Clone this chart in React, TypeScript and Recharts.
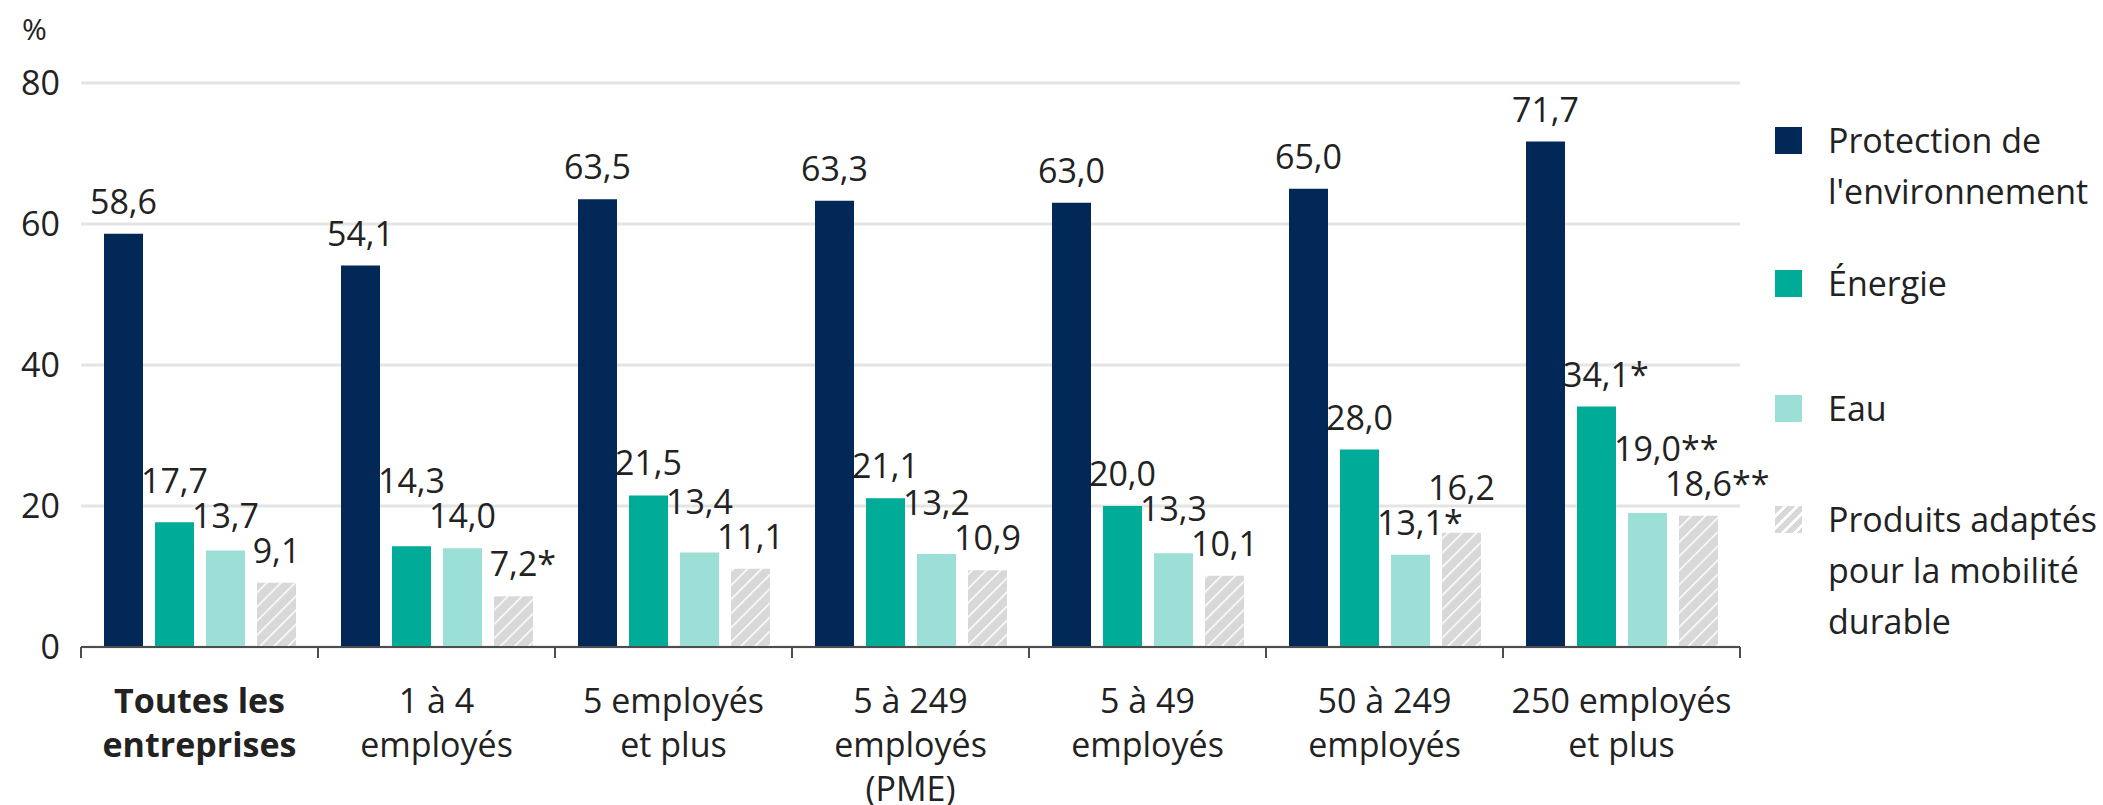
import React from 'react';
import { Bar, BarChart, CartesianGrid, LabelList, Legend, XAxis, YAxis } from 'recharts';

const categories = [
  'Toutes les entreprises',
  '1 à 4 employés',
  '5 employés et plus',
  '5 à 249 employés (PME)',
  '5 à 49 employés',
  '50 à 249 employés',
  '250 employés et plus',
];

const categoryLines = [
  ['Toutes les', 'entreprises'],
  ['1 à 4', 'employés'],
  ['5 employés', 'et plus'],
  ['5 à 249', 'employés', '(PME)'],
  ['5 à 49', 'employés'],
  ['50 à 249', 'employés'],
  ['250 employés', 'et plus'],
];

const protection = [58.6, 54.1, 63.5, 63.3, 63.0, 65.0, 71.7];
const energie = [17.7, 14.3, 21.5, 21.1, 20.0, 28.0, 34.1];
const eau = [13.7, 14.0, 13.4, 13.2, 13.3, 13.1, 19.0];
const mobilite = [9.1, 7.2, 11.1, 10.9, 10.1, 16.2, 18.6];

const protectionNotes = ['', '', '', '', '', '', ''];
const energieNotes = ['', '', '', '', '', '', '*'];
const eauNotes = ['', '', '', '', '', '*', '**'];
const mobiliteNotes = ['', '*', '', '', '', '', '**'];

const yTicks = [0, 20, 40, 60, 80];

const seriesList = [
  { key: 'protection', lines: ['Protection de', "l'environnement"], values: protection, notes: protectionNotes, fill: '#012856' },
  { key: 'energie', lines: ['Énergie'], values: energie, notes: energieNotes, fill: '#00ab97' },
  { key: 'eau', lines: ['Eau'], values: eau, notes: eauNotes, fill: '#9bdfd6' },
  { key: 'mobilite', lines: ['Produits adaptés', 'pour la mobilité', 'durable'], values: mobilite, notes: mobiliteNotes, fill: 'url(#hatch)' },
];

const data = categories.map((name, i) => ({
  name,
  protection: protection[i],
  energie: energie[i],
  eau: eau[i],
  mobilite: mobilite[i],
}));

const W = 2103;
const H = 805;
const MARGIN = { top: 83, right: 363, bottom: 58, left: 21 };
const Y_WIDTH = 60;
const BAND = (W - MARGIN.right - MARGIN.left - Y_WIDTH) / categories.length;
const FONT = "'Open Sans', sans-serif";
const TEXT = '#222';
const FS = 34;
const LABEL_OFFSET = 20;
const LABEL_LINE = 35;

const fmt = (v: number) => v.toFixed(1).replace('.', ',');
// rough Open Sans width of a number like "13,7"
const numWidth = (s: string) => (s.length - 1) * 0.572 * FS + 0.26 * FS;

// labels stack up when neighbours collide; higher value gets pushed up
function makeLabel(si: number) {
  return (props: any) => {
    const { x, y, width, height, index } = props;
    const vals = seriesList.map((s) => s.values[index]);
    const bottom = Number(y) + Number(height);
    const ppu = Number(height) / vals[si];
    const order = vals.map((v, i) => i).sort((a, b) => vals[a] - vals[b]);
    const base: number[] = [];
    order.forEach((s) => {
      let b = bottom - vals[s] * ppu - LABEL_OFFSET;
      [s - 1, s + 1].forEach((n) => {
        if (base[n] !== undefined) b = Math.min(b, base[n] - LABEL_LINE);
      });
      base[s] = b;
    });
    const cx = Number(x) + Number(width) / 2;
    const txt = fmt(vals[si]);
    const note = seriesList[si].notes[index];
    return (
      <g style={{ fontFamily: FONT, fontSize: FS }} fill={TEXT}>
        <text x={cx} y={base[si]} textAnchor='middle'>
          {txt}
        </text>
        {note && (
          <text x={cx + numWidth(txt) / 2} y={base[si]} textAnchor='start'>
            {note}
          </text>
        )}
      </g>
    );
  };
}

const CategoryTick = ({ x, y, payload }: any) => {
  const idx = categories.indexOf(payload.value);
  const lines = categoryLines[idx] || [payload.value];
  const last = idx === categories.length - 1;
  return (
    <g>
      <line x1={x - BAND / 2} x2={x - BAND / 2} y1={y} y2={y + 11} stroke='#4d4d4d' strokeWidth={2} />
      {last && <line x1={x + BAND / 2} x2={x + BAND / 2} y1={y} y2={y + 11} stroke='#4d4d4d' strokeWidth={2} />}
      <text
        x={x}
        y={y}
        textAnchor='middle'
        fill={TEXT}
        style={{ fontFamily: FONT, fontSize: FS, fontWeight: idx === 0 ? 700 : 400 }}
      >
        {lines.map((l, i) => (
          <tspan key={i} x={x} dy={i === 0 ? 66 : 44}>
            {l}
          </tspan>
        ))}
      </text>
    </g>
  );
};

const legendTops = [0, 143, 268, 379];

const LegendContent = () => (
  <div style={{ position: 'relative', fontFamily: FONT, fontSize: FS, color: TEXT, lineHeight: '51px' }}>
    {seriesList.map((s, i) => (
      <div key={s.key} style={{ position: 'absolute', left: 0, top: legendTops[i], display: 'flex', alignItems: 'flex-start' }}>
        <div
          style={{
            width: 27,
            height: 27,
            marginTop: 12,
            marginRight: 26,
            flex: 'none',
            background:
              s.key === 'mobilite'
                ? 'repeating-linear-gradient(135deg, #d8d8d8 0px, #d8d8d8 6px, #ffffff 6px, #ffffff 8.5px)'
                : s.fill,
          }}
        />
        <div style={{ whiteSpace: 'nowrap' }}>
          {s.lines.map((l, j) => (
            <div key={j}>{l}</div>
          ))}
        </div>
      </div>
    ))}
  </div>
);

export default function App() {
  return (
    <div style={{ position: 'absolute', left: 0, top: 0, width: W, height: H, background: '#fff', fontFamily: FONT }}>
      <svg width={0} height={0} style={{ position: 'absolute' }}>
        <defs>
          <pattern id='hatch' patternUnits='userSpaceOnUse' width={10} height={10} patternTransform='rotate(45)'>
            <rect width={10} height={10} fill='#d8d8d8' />
            <line x1={0} y1={0} x2={0} y2={10} stroke='#ffffff' strokeWidth={3} />
          </pattern>
        </defs>
      </svg>
      <div style={{ position: 'absolute', left: 22, top: 12, fontSize: 30, lineHeight: '34px', color: TEXT }}>%</div>
      <BarChart width={W} height={H} data={data} margin={MARGIN} barSize={39} barGap={12}>
        <CartesianGrid vertical={false} stroke='#e4e4e4' strokeWidth={3} />
        <YAxis
          domain={[0, 80]}
          ticks={yTicks}
          width={Y_WIDTH}
          axisLine={false}
          tickLine={false}
          tickSize={0}
          tickMargin={21}
          tick={{ fill: TEXT, fontSize: FS, fontFamily: FONT }}
        />
        {seriesList.map((s, i) => (
          <Bar key={s.key} dataKey={s.key} fill={s.fill} isAnimationActive={false}>
            <LabelList dataKey={s.key} content={makeLabel(i)} />
          </Bar>
        ))}
        <XAxis
          dataKey='name'
          interval={0}
          height={100}
          tickLine={false}
          tickSize={0}
          tickMargin={0}
          axisLine={{ stroke: '#4d4d4d', strokeWidth: 2 }}
          tick={<CategoryTick />}
        />
        <Legend
          layout='vertical'
          align='center'
          verticalAlign='middle'
          content={<LegendContent />}
          wrapperStyle={{ position: 'absolute', left: 1775, top: 115, width: 328, height: 560 }}
        />
      </BarChart>
    </div>
  );
}
